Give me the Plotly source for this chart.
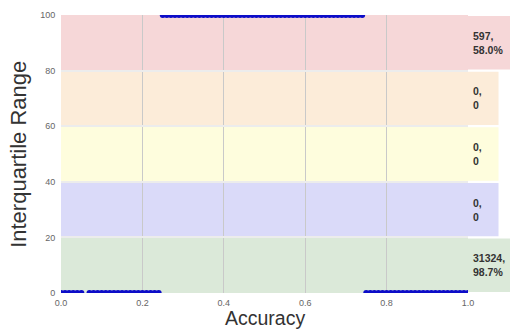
import plotly.graph_objects as go

# Accuracy / interquartile-range samples
acc_low_a = [0.00, 0.01, 0.02, 0.03, 0.04, 0.05]
acc_low_b = [0.07, 0.08, 0.09, 0.10, 0.11, 0.12, 0.13, 0.14, 0.15, 0.16,
             0.17, 0.18, 0.19, 0.20, 0.21, 0.22, 0.23, 0.24]
acc_high = [0.25, 0.26, 0.27, 0.28, 0.29, 0.30, 0.31, 0.32, 0.33, 0.34,
            0.35, 0.36, 0.37, 0.38, 0.39, 0.40, 0.41, 0.42, 0.43, 0.44,
            0.45, 0.46, 0.47, 0.48, 0.49, 0.50, 0.51, 0.52, 0.53, 0.54,
            0.55, 0.56, 0.57, 0.58, 0.59, 0.60, 0.61, 0.62, 0.63, 0.64,
            0.65, 0.66, 0.67, 0.68, 0.69, 0.70, 0.71, 0.72, 0.73, 0.74]
acc_low_c = [0.75, 0.76, 0.77, 0.78, 0.79, 0.80, 0.81, 0.82, 0.83, 0.84,
             0.85, 0.86, 0.87, 0.88, 0.89, 0.90, 0.91, 0.92, 0.93, 0.94,
             0.95, 0.96, 0.97, 0.98, 0.99, 1.00]
iqr_low = 0
iqr_high = 100

accuracy = acc_low_a + acc_low_b + acc_high + acc_low_c
iqr = ([iqr_low] * len(acc_low_a) + [iqr_low] * len(acc_low_b)
       + [iqr_high] * len(acc_high) + [iqr_low] * len(acc_low_c))

# Bands (bottom, top) with their summary labels
band_bottoms = [80, 60, 40, 20, 0]
band_tops = [100, 80, 60, 40, 20]
band_labels = ["597,<br>58.0%", "0,<br>0", "0,<br>0", "0,<br>0", "31324,<br>98.7%"]
band_colors = ["#f6d7d8", "#fcecd9", "#fefddd", "#dadaf9", "#dbe9d9"]
band_label_ends = [1.11, 1.075, 1.075, 1.075, 1.11]

x_ticks = [0.0, 0.2, 0.4, 0.6, 0.8, 1.0]
y_ticks = [0, 20, 40, 60, 80, 100]

x_title = "Accuracy"
y_title = "Interquartile Range"

fig = go.Figure()

shapes = []
annotations = []
for lo, hi, lab, col, end in zip(band_bottoms, band_tops, band_labels,
                                 band_colors, band_label_ends):
    shapes.append(dict(type="rect", xref="x", yref="y", x0=0, x1=1,
                       y0=lo, y1=hi, fillcolor=col, line_width=0,
                       layer="below"))
    shapes.append(dict(type="rect", xref="paper", yref="y", x0=1, x1=end,
                       y0=lo + 0.4, y1=hi - 0.4, fillcolor=col, line_width=0,
                       layer="below"))
    annotations.append(dict(x=1.008, y=(lo + hi) / 2, xref="paper", yref="y",
                            text="<b>" + lab + "</b>", showarrow=False,
                            xanchor="left", yanchor="middle", align="left",
                            font=dict(family="Liberation Sans, Arial",
                                      size=10.5, color="#333333")))

# Axis titles
annotations.append(dict(x=0.5, y=-0.1367, xref="paper", yref="paper",
                        text=x_title, showarrow=False, xanchor="center",
                        yanchor="bottom",
                        font=dict(family="Liberation Sans, Arial", size=19.5,
                                  color="#333333")))
annotations.append(dict(x=-0.106, y=0.5, xref="paper", yref="paper",
                        text=y_title, showarrow=False, xanchor="center",
                        yanchor="middle", textangle=-90,
                        font=dict(family="Liberation Sans, Arial", size=22,
                                  color="#333333")))

fig.add_trace(go.Scatter(
    x=accuracy, y=iqr, mode="markers",
    marker=dict(size=6, color="#0c0cc8",
                line=dict(width=0)),
    showlegend=False,
))

fig.update_layout(
    width=510, height=331,
    margin=dict(l=61, r=42, t=15, b=38),
    paper_bgcolor="white", plot_bgcolor="white",
    shapes=shapes, annotations=annotations,
    font=dict(family="Liberation Sans, Arial", color="#555555"),
)
fig.update_xaxes(
    range=[0, 1], tickvals=x_ticks, ticktext=["%.1f" % v for v in x_ticks],
    showgrid=True, gridcolor="#c9c9c9", gridwidth=1, zeroline=False,
    showline=False, ticks="outside", ticklen=1, tickcolor="rgba(0,0,0,0)",
    tickfont=dict(size=9, color="#666666"), automargin=False,
)
fig.update_yaxes(
    range=[0, 100], tickvals=y_ticks, ticktext=[str(v) for v in y_ticks],
    showgrid=True, gridcolor="#ececec", gridwidth=1.5, zeroline=False,
    showline=False, ticks="outside", ticklen=3, tickcolor="rgba(0,0,0,0)",
    tickfont=dict(size=9, color="#666666"), automargin=False,
)

fig.write_html("out.html")
